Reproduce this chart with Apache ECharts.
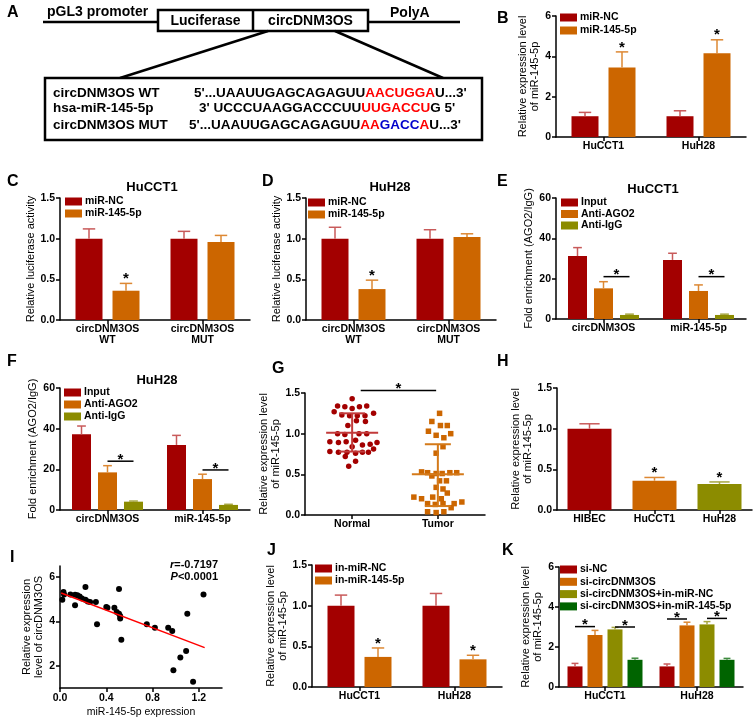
<!DOCTYPE html>
<html><head><meta charset="utf-8">
<script src="https://cdn.jsdelivr.net/npm/echarts@6/dist/echarts.min.js"></script>
<style>html,body{margin:0;padding:0;background:#fff}#c{width:753px;height:719px}</style>
</head><body><div id="c"></div>
<script>
// ---------------- DATA ----------------
// Panel B
const catsB = ['HuCCT1', 'HuH28'];
const namesB = ['miR-NC', 'miR-145-5p'];
const meanB_NC = [1.03, 1.03], errB_NC = [1.22, 1.30];
const meanB_miR = [3.45, 4.15], errB_miR = [4.22, 4.82];
const starB_miR = [1, 1];
// Panel C (HuCCT1) and D (HuH28) luciferase
const catsCD = ['circDNM3OS\nWT', 'circDNM3OS\nMUT'];
const meanC_NC = [1.0, 1.0], errC_NC = [1.12, 1.09];
const meanC_miR = [0.36, 0.96], errC_miR = [0.45, 1.04];
const starC_miR = [1, 0];
const meanD_NC = [1.0, 1.0], errD_NC = [1.14, 1.11];
const meanD_miR = [0.38, 1.02], errD_miR = [0.49, 1.06];
const starD_miR = [1, 0];
// Panel E (HuCCT1) and F (HuH28) RIP
const catsEF = ['circDNM3OS', 'miR-145-5p'];
const namesEF = ['Input', 'Anti-AGO2', 'Anti-IgG'];
const meanE_Input = [31.2, 29.3], errE_Input = [35.4, 32.6];
const meanE_AGO2 = [15.2, 13.9], errE_AGO2 = [18.5, 16.9];
const meanE_IgG = [2.0, 2.0], errE_IgG = [2.4, 2.4];
const sigE = [[0, 1, 2, 21], [1, 1, 2, 21]];
const meanF_Input = [37.2, 32.0], errF_Input = [41.3, 36.7];
const meanF_AGO2 = [18.5, 15.2], errF_AGO2 = [21.8, 17.6];
const meanF_IgG = [4.1, 2.5], errF_IgG = [4.4, 2.8];
const sigF = [[0, 1, 2, 24], [1, 1, 2, 19.7]];
// Panel G scatter
const normalValues = [1.43,1.34,1.33,1.31,1.33,1.34,1.27,1.23,1.22,1.22,1.22,1.25,1.16,1.15,1.10,1.00,0.99,1.00,1.00,0.90,0.89,0.90,0.92,0.86,0.87,0.89,0.84,0.78,0.77,0.77,0.76,0.77,0.77,0.81,0.72,0.66,0.60];
const normalSpread = [0.0,-0.17,-0.085,0.0,0.085,0.17,-0.21,-0.12,-0.03,0.06,0.15,0.25,0.05,0.155,-0.05,-0.17,-0.085,0.08,0.17,-0.26,-0.16,-0.07,0.04,0.12,0.21,0.29,0.0,-0.26,-0.16,-0.06,0.04,0.12,0.19,0.25,-0.08,0.04,-0.04];
const tumorValues = [1.25,1.15,1.10,1.10,1.03,0.98,0.95,1.00,0.84,0.76,0.53,0.52,0.51,0.51,0.52,0.52,0.48,0.42,0.42,0.34,0.32,0.27,0.22,0.20,0.22,0.20,0.14,0.13,0.14,0.14,0.16,0.09,0.04,0.03,0.04];
const tumorSpread = [0.02,-0.07,0.03,0.11,-0.11,-0.02,0.07,0.15,0.06,-0.02,-0.19,-0.12,-0.02,0.05,0.14,0.22,-0.07,0.02,0.10,-0.02,0.06,0.11,-0.28,-0.19,-0.06,0.04,-0.12,-0.03,0.06,0.19,0.28,0.155,-0.12,-0.02,0.07];
const groupNamesG = ['Normal', 'Tumor'];
const meanSdG = [[0, 1.01, 0.78, 1.25], [1, 0.50, 0.11, 0.87]];
const sigG = [[0.1, 0.98, 1.53]];
// Panel H
const catsH = ['HIBEC', 'HuCCT1', 'HuH28'];
const meanH = [1.0, 0.36, 0.32], errH = [1.06, 0.40, 0.345];
const starH = [0, 1, 1];
// Panel I correlation
const corrX = [0.02,0.03,0.035,0.09,0.13,0.15,0.17,0.19,0.22,0.24,0.26,0.13,0.22,0.31,0.32,0.40,0.41,0.47,0.49,0.51,0.52,0.52,0.51,0.53,0.75,0.82,0.935,0.97,0.98,1.04,1.09,1.10,1.15,1.24];
const corrY = [4.98,5.33,5.22,5.22,5.20,5.18,5.13,5.03,4.98,4.90,4.88,4.73,5.55,4.88,3.87,4.65,4.62,4.62,4.43,4.35,4.25,4.13,5.46,3.18,3.87,3.72,3.72,3.57,1.80,2.37,2.67,4.35,1.28,5.22];
const fitX = [0.01, 1.25], fitY = [5.28, 2.82];
const xTicksI = [0, 0.4, 0.8, 1.2], yTicksI = [2, 4, 6];
// Panel J
const catsJ = ['HuCCT1', 'HuH28'];
const namesJ = ['in-miR-NC', 'in-miR-145-5p'];
const meanJ_NC = [1.0, 1.0], errJ_NC = [1.13, 1.15];
const meanJ_in = [0.37, 0.34], errJ_in = [0.48, 0.39];
const starJ_in = [1, 1];
// Panel K
const catsK = ['HuCCT1', 'HuH28'];
const namesK = ['si-NC', 'si-circDNM3OS', 'si-circDNM3OS+in-miR-NC', 'si-circDNM3OS+in-miR-145-5p'];
const meanK_NC = [1.03, 1.03], errK_NC = [1.18, 1.15];
const meanK_si = [2.6, 3.08], errK_si = [2.83, 3.24];
const meanK_siNC = [2.88, 3.13], errK_siNC = [2.98, 3.27];
const meanK_si145 = [1.36, 1.36], errK_si145 = [1.44, 1.43];
const sigK = [[0, 0, 1, 3.02], [0, 2, 3, 3.0], [1, 0, 1, 3.4], [1, 2, 3, 3.43]];

// ---------------- STYLE ----------------
const FONT = '"Liberation Sans", Arial, sans-serif';
const RED = '#A30000', ORANGE = '#CC6600', OLIVE = '#8C8C00', GREEN = '#006400';
const RED_E = '#C85A5A', ORANGE_E = '#DD8833', OLIVE_E = '#A6A640', GREEN_E = '#3E8A3E';

const option = {animation: false, backgroundColor: '#fff', textStyle: {fontFamily: FONT},
  grid: [], xAxis: [], yAxis: [], series: [], legend: [], graphic: []};

const AX_LINE = {show: true, onZero: false, lineStyle: {color: '#000', width: 1.5}};
const AX_TICK = {show: true, length: 4, lineStyle: {color: '#000', width: 1.5}};
const LBL = {color: '#000', fontFamily: FONT, fontWeight: 'bold', fontSize: 10.5};
const f1 = v => v.toFixed(1);
const f0 = v => String(v);

function valY(gi, min, max, interval, fmt, name, nameGap, extra) {
  return Object.assign({type: 'value', gridIndex: gi, min, max, interval,
    axisLine: AX_LINE, axisTick: AX_TICK, splitLine: {show: false},
    axisLabel: Object.assign({}, LBL, {margin: 5, formatter: fmt}),
    name, nameLocation: 'middle', nameRotate: 90, nameGap,
    nameTextStyle: {color: '#000', fontFamily: FONT, fontSize: 11, lineHeight: 12}}, extra || {});
}
function catX(gi, cats) {
  return {type: 'category', gridIndex: gi, data: cats,
    axisLine: AX_LINE, axisTick: Object.assign({alignWithLabel: true}, AX_TICK),
    axisLabel: Object.assign({}, LBL, {margin: 4, lineHeight: 11, interval: 0})};
}
function starEl(x, y) {
  return {type: 'text', x: x, y: y, style: {text: '*', fill: '#000', font: 'bold 15px ' + FONT, align: 'center', verticalAlign: 'middle'}};
}
function errRender(off, bw, colors) {
  return function (params, api) {
    const k = api.value(0), v = api.value(1), e = api.value(2), s = api.value(3);
    const b = api.coord([k, v]), t = api.coord([k, e]);
    const x = b[0] + off, hw = bw * 0.23;
    const c = Array.isArray(colors) ? colors[k] : colors;
    const ch = [
      {type: 'line', shape: {x1: x, y1: b[1], x2: x, y2: t[1]}, style: {stroke: c, lineWidth: 1.5}},
      {type: 'line', shape: {x1: x - hw, y1: t[1], x2: x + hw, y2: t[1]}, style: {stroke: c, lineWidth: 1.5}}];
    if (s) ch.push(starEl(x, t[1] - 4.5));
    return {type: 'group', children: ch};
  };
}
function sigRender(n, bw, gap) {
  return function (params, api) {
    const k = api.value(0), i = api.value(1), j = api.value(2), y = api.value(3);
    const p = api.coord([k, y]);
    const xi = p[0] + (i - (n - 1) / 2) * (bw + gap), xj = p[0] + (j - (n - 1) / 2) * (bw + gap);
    return {type: 'group', children: [
      {type: 'line', shape: {x1: xi, y1: p[1], x2: xj, y2: p[1]}, style: {stroke: '#000', lineWidth: 1.5}},
      starEl((xi + xj) / 2, p[1] - 1.5)]};
  };
}
function addText(x, y, text, font, align) {
  option.graphic.push({type: 'text', x: x, y: y, silent: true,
    style: {text: text, fill: '#000', font: font, align: align || 'left', verticalAlign: 'middle'}});
}
function addLegend(names, left, top, gap) {
  option.legend.push({data: names, left: left, top: top, orient: 'vertical', padding: 0, itemGap: gap,
    itemWidth: 17, itemHeight: 8, icon: 'rect', selectedMode: false,
    textStyle: {color: '#000', fontFamily: FONT, fontWeight: 'bold', fontSize: 10.5, lineHeight: 10, padding: [0, 0, 0, -2]}});
}
function addBarPanel(p) {
  const gi = option.grid.length;
  option.grid.push({left: p.left, top: p.top, width: p.width, height: p.height});
  option.xAxis.push(catX(gi, p.cats));
  option.yAxis.push(valY(gi, 0, p.yMax, p.yInt, p.fmt, p.yName, p.nameGap));
  const n = p.groups.length;
  p.groups.forEach((g, i) => {
    const data = g.itemColors ? g.mean.map((m, k) => ({value: m, itemStyle: {color: g.itemColors[k]}})) : g.mean;
    option.series.push({type: 'bar', name: g.name, xAxisIndex: gi, yAxisIndex: gi, data: data,
      barWidth: p.bw, barGap: (p.gap / p.bw * 100) + '%', itemStyle: {color: g.color}, silent: true});
    const off = (i - (n - 1) / 2) * (p.bw + p.gap);
    option.series.push({type: 'custom', xAxisIndex: gi, yAxisIndex: gi, silent: true, z: 3,
      data: g.mean.map((m, k) => [k, m, g.err[k], g.star && g.star[k] ? 1 : 0]),
      renderItem: errRender(off, p.bw, g.errColor)});
  });
  if (p.sig) option.series.push({type: 'custom', xAxisIndex: gi, yAxisIndex: gi, silent: true, z: 3,
    data: p.sig, renderItem: sigRender(n, p.bw, p.gap)});
  if (p.legend) addLegend(p.groups.map(g => g.name), p.legend[0], p.legend[1], p.legend[2]);
  if (p.title) addText(p.title[0], p.title[1], p.title[2], 'bold 13px ' + FONT, 'center');
}

const YEXP = 'Relative expression level\nof miR-145-5p';
const YLUC = 'Relative luciferase activity';
const YFOLD = 'Fold enrichment (AGO2/IgG)';

// B
addBarPanel({left: 556, top: 16, width: 190, height: 121, cats: catsB, yMax: 6, yInt: 2, fmt: f0, yName: YEXP, nameGap: 8,
  bw: 27, gap: 10, legend: [560, 12, 2],
  groups: [{name: namesB[0], mean: meanB_NC, err: errB_NC, color: RED, errColor: RED_E},
           {name: namesB[1], mean: meanB_miR, err: errB_miR, color: ORANGE, errColor: ORANGE_E, star: starB_miR}]});
// C
addBarPanel({left: 60, top: 198, width: 190, height: 122, cats: catsCD, yMax: 1.5, yInt: 0.5, fmt: f1, yName: YLUC, nameGap: 21,
  bw: 27, gap: 10, legend: [65, 196, 1], title: [152, 187, 'HuCCT1'],
  groups: [{name: namesB[0], mean: meanC_NC, err: errC_NC, color: RED, errColor: RED_E},
           {name: namesB[1], mean: meanC_miR, err: errC_miR, color: ORANGE, errColor: ORANGE_E, star: starC_miR}]});
// D
addBarPanel({left: 306, top: 198, width: 190, height: 122, cats: catsCD, yMax: 1.5, yInt: 0.5, fmt: f1, yName: YLUC, nameGap: 23,
  bw: 27, gap: 10, legend: [308, 197, 1], title: [390, 187, 'HuH28'],
  groups: [{name: namesB[0], mean: meanD_NC, err: errD_NC, color: RED, errColor: RED_E},
           {name: namesB[1], mean: meanD_miR, err: errD_miR, color: ORANGE, errColor: ORANGE_E, star: starD_miR}]});
// E
addBarPanel({left: 556, top: 198, width: 190, height: 121, cats: catsEF, yMax: 60, yInt: 20, fmt: f0, yName: YFOLD, nameGap: 18,
  bw: 19, gap: 7, legend: [561, 197, 0.5], title: [653, 189, 'HuCCT1'], sig: sigE,
  groups: [{name: namesEF[0], mean: meanE_Input, err: errE_Input, color: RED, errColor: RED_E},
           {name: namesEF[1], mean: meanE_AGO2, err: errE_AGO2, color: ORANGE, errColor: ORANGE_E},
           {name: namesEF[2], mean: meanE_IgG, err: errE_IgG, color: OLIVE, errColor: OLIVE_E}]});
// F
addBarPanel({left: 60, top: 388, width: 190, height: 122, cats: catsEF, yMax: 60, yInt: 20, fmt: f0, yName: YFOLD, nameGap: 20,
  bw: 19, gap: 7, legend: [64, 387, 1], title: [157, 380, 'HuH28'], sig: sigF,
  groups: [{name: namesEF[0], mean: meanF_Input, err: errF_Input, color: RED, errColor: RED_E},
           {name: namesEF[1], mean: meanF_AGO2, err: errF_AGO2, color: ORANGE, errColor: ORANGE_E},
           {name: namesEF[2], mean: meanF_IgG, err: errF_IgG, color: OLIVE, errColor: OLIVE_E}]});
// H
addBarPanel({left: 557, top: 388, width: 195, height: 122, cats: catsH, yMax: 1.5, yInt: 0.5, fmt: f1, yName: YEXP, nameGap: 21,
  bw: 44, gap: 0,
  groups: [{name: 'H', mean: meanH, err: errH, itemColors: [RED, ORANGE, OLIVE], errColor: [RED_E, ORANGE_E, OLIVE_E], star: starH}]});
// J
addBarPanel({left: 312, top: 565, width: 190, height: 122, cats: catsJ, yMax: 1.5, yInt: 0.5, fmt: f1, yName: YEXP, nameGap: 23,
  bw: 27, gap: 10, legend: [315, 563, 1],
  groups: [{name: namesJ[0], mean: meanJ_NC, err: errJ_NC, color: RED, errColor: RED_E},
           {name: namesJ[1], mean: meanJ_in, err: errJ_in, color: ORANGE, errColor: ORANGE_E, star: starJ_in}]});
// K
addBarPanel({left: 559, top: 567, width: 184, height: 120, cats: catsK, yMax: 6, yInt: 2, fmt: f0, yName: YEXP, nameGap: 15,
  bw: 15, gap: 5, legend: [560, 564, 1.3], sig: sigK,
  groups: [{name: namesK[0], mean: meanK_NC, err: errK_NC, color: RED, errColor: RED_E},
           {name: namesK[1], mean: meanK_si, err: errK_si, color: ORANGE, errColor: ORANGE_E},
           {name: namesK[2], mean: meanK_siNC, err: errK_siNC, color: OLIVE, errColor: OLIVE_E},
           {name: namesK[3], mean: meanK_si145, err: errK_si145, color: GREEN, errColor: GREEN_E}]});

// G scatter dot plot
(function () {
  const gi = option.grid.length;
  option.grid.push({left: 305, top: 393, width: 180, height: 122});
  option.xAxis.push({type: 'value', gridIndex: gi, min: -0.55, max: 1.55, axisLine: AX_LINE,
    axisTick: Object.assign({customValues: [0, 1]}, AX_TICK), splitLine: {show: false},
    axisLabel: Object.assign({}, LBL, {margin: 4, customValues: [0, 1], formatter: v => groupNamesG[Math.round(v)]})});
  option.yAxis.push(valY(gi, 0, 1.5, 0.5, f1, YEXP, 16));
  option.series.push({type: 'scatter', xAxisIndex: gi, yAxisIndex: gi, symbol: 'circle', symbolSize: 5.5, silent: true,
    itemStyle: {color: RED, opacity: 1}, data: normalValues.map((v, i) => [0 + normalSpread[i], v])});
  option.series.push({type: 'scatter', xAxisIndex: gi, yAxisIndex: gi, symbol: 'rect', symbolSize: 5.5, silent: true,
    itemStyle: {color: ORANGE, opacity: 1}, data: tumorValues.map((v, i) => [1 + tumorSpread[i], v])});
  const lineCols = ['#C23A3A', '#D47A1A'];
  option.series.push({type: 'custom', xAxisIndex: gi, yAxisIndex: gi, silent: true, z: 4, data: meanSdG,
    renderItem: function (params, api) {
      const k = api.value(0), m = api.coord([k, api.value(1)]), lo = api.coord([k, api.value(2)]), hi = api.coord([k, api.value(3)]);
      const c = lineCols[params.dataIndex], x = m[0];
      const st = {stroke: c, lineWidth: 2};
      return {type: 'group', children: [
        {type: 'line', shape: {x1: x - 26, y1: m[1], x2: x + 26, y2: m[1]}, style: st},
        {type: 'line', shape: {x1: x, y1: lo[1], x2: x, y2: hi[1]}, style: st},
        {type: 'line', shape: {x1: x - 13, y1: lo[1], x2: x + 13, y2: lo[1]}, style: st},
        {type: 'line', shape: {x1: x - 13, y1: hi[1], x2: x + 13, y2: hi[1]}, style: st}]};
    }});
  option.series.push({type: 'custom', xAxisIndex: gi, yAxisIndex: gi, silent: true, data: sigG,
    renderItem: function (params, api) {
      const a = api.coord([api.value(0), api.value(2)]), b = api.coord([api.value(1), api.value(2)]);
      return {type: 'group', children: [
        {type: 'line', shape: {x1: a[0], y1: a[1], x2: b[0], y2: b[1]}, style: {stroke: '#000', lineWidth: 1.5}},
        starEl((a[0] + b[0]) / 2, a[1] - 1.5)]};
    }});
})();

// I correlation
(function () {
  const gi = option.grid.length;
  option.grid.push({left: 60, top: 566, width: 162, height: 122});
  option.xAxis.push({type: 'value', gridIndex: gi, min: 0, max: 1.4, axisLine: AX_LINE,
    axisTick: Object.assign({customValues: xTicksI}, AX_TICK), splitLine: {show: false},
    axisLabel: Object.assign({}, LBL, {margin: 5, customValues: xTicksI, formatter: f1}),
    name: 'miR-145-5p expression', nameLocation: 'middle', nameGap: 19,
    nameTextStyle: {color: '#000', fontFamily: FONT, fontSize: 10.5}});
  option.yAxis.push(valY(gi, 1, 6.5, null, f0, 'Relative expression\nlevel of circDNM3OS', 12,
    {axisTick: Object.assign({customValues: yTicksI}, AX_TICK),
     axisLabel: Object.assign({}, LBL, {margin: 5, customValues: yTicksI, formatter: f0})}));
  option.series.push({type: 'line', xAxisIndex: gi, yAxisIndex: gi, silent: true, symbol: 'none',
    lineStyle: {color: '#FF0000', width: 1.5}, data: fitX.map((x, i) => [x, fitY[i]])});
  option.series.push({type: 'scatter', xAxisIndex: gi, yAxisIndex: gi, silent: true, symbolSize: 6,
    itemStyle: {color: '#000', opacity: 1}, data: corrX.map((x, i) => [x, corrY[i]])});
  const rich = {i: {font: 'italic bold 11px ' + FONT, fill: '#000'}, n: {font: 'bold 11px ' + FONT, fill: '#000'}};
  option.graphic.push({type: 'text', x: 218, y: 565, silent: true, style: {text: '{i|r}{n|=-0.7197}', rich: rich, align: 'right', verticalAlign: 'middle'}});
  option.graphic.push({type: 'text', x: 218, y: 577, silent: true, style: {text: '{i|P}{n|<0.0001}', rich: rich, align: 'right', verticalAlign: 'middle'}});
})();

// Panel letters
const LF = 'bold 16px ' + FONT;
[['A', 7, 13], ['B', 497, 19], ['C', 7, 182], ['D', 262, 182], ['E', 497, 182], ['F', 7, 362],
 ['G', 272, 369], ['H', 497, 362], ['I', 10, 558], ['J', 267, 551], ['K', 502, 551]].forEach(l => addText(l[1], l[2], l[0], LF));

// Panel A schematic
(function () {
  const G = option.graphic, S = {stroke: '#000', lineWidth: 2.5};
  const AF = 'bold 14px ' + FONT, SF = 'bold 13.5px ' + FONT;
  G.push({type: 'line', shape: {x1: 43, y1: 22, x2: 158, y2: 22}, style: S});
  G.push({type: 'line', shape: {x1: 368, y1: 22, x2: 460, y2: 22}, style: S});
  G.push({type: 'rect', shape: {x: 158, y: 10, width: 210, height: 21}, style: {fill: '#fff', stroke: '#000', lineWidth: 2.5}});
  G.push({type: 'line', shape: {x1: 253, y1: 10, x2: 253, y2: 31}, style: S});
  G.push({type: 'line', shape: {x1: 268, y1: 31, x2: 120, y2: 78}, style: S});
  G.push({type: 'line', shape: {x1: 335, y1: 31, x2: 443, y2: 78}, style: S});
  G.push({type: 'rect', shape: {x: 45, y: 78, width: 437, height: 62}, style: {fill: '#fff', stroke: '#000', lineWidth: 2.5}});
  addText(47, 12, 'pGL3 promoter', AF);
  addText(205.5, 21, 'Luciferase', AF, 'center');
  addText(310.5, 21, 'circDNM3OS', AF, 'center');
  addText(390, 13, 'PolyA', AF);
  addText(53, 93, 'circDNM3OS WT', SF);
  addText(53, 108, 'hsa-miR-145-5p', SF);
  addText(53, 125, 'circDNM3OS MUT', SF);
  const rich = {k: {font: SF, fill: '#000'}, r: {font: SF, fill: '#FF0000'}, b: {font: SF, fill: '#0000CC'}};
  const seq = (x, y, t) => G.push({type: 'text', x: x, y: y, silent: true, style: {text: t, rich: rich, align: 'left', verticalAlign: 'middle'}});
  seq(194, 93, "{k|5'...UAAUUGAGCAGAGUU}{r|AACUGGA}{k|U...3'}");
  seq(199, 108, "{k|3' UCCCUAAGGACCCUU}{r|UUGACCU}{k|G 5'}");
  seq(189, 125, "{k|5'...UAAUUGAGCAGAGUU}{r|AA}{b|GACC}{r|A}{k|U...3'}");
})();

const chart = echarts.init(document.getElementById('c'), null, {renderer: 'canvas'});
chart.setOption(option);
</script></body></html>
